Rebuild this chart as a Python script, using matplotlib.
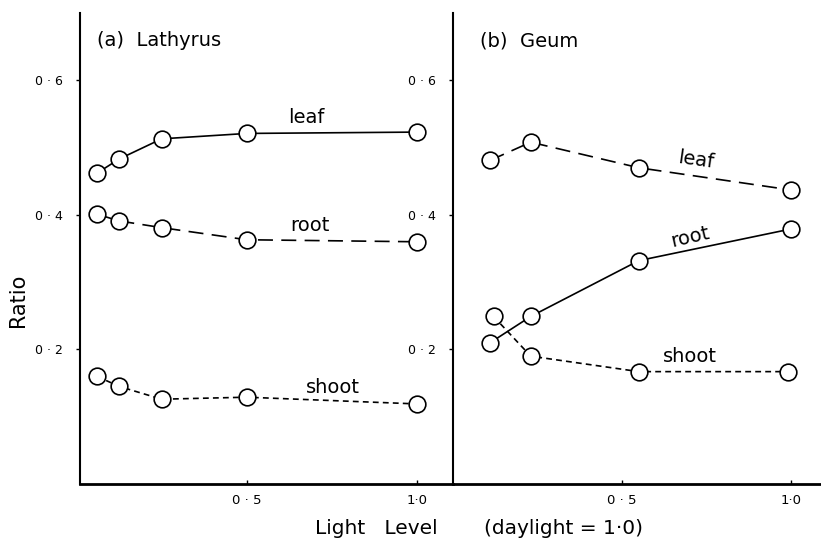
import matplotlib
matplotlib.use('Agg')
import matplotlib.pyplot as plt

# panel (a) Lathyrus
lat_x = [0.06, 0.125, 0.25, 0.5, 1.0]
lat_leaf = [0.462, 0.483, 0.513, 0.521, 0.523]
lat_root = [0.401, 0.391, 0.381, 0.363, 0.360]
lat_shoot = [0.160, 0.145, 0.126, 0.129, 0.119]

# panel (b) Geum
geum_x = [0.11, 0.23, 0.55, 1.0]
geum_leaf = [0.481, 0.508, 0.470, 0.437]
geum_root = [0.210, 0.249, 0.332, 0.379]
geum_shoot_x = [0.12, 0.23, 0.55, 0.99]
geum_shoot = [0.249, 0.190, 0.167, 0.167]

y_ticks = [0.2, 0.4, 0.6]
y_labels = ['0 · 2', '0 · 4', '0 · 6']
x_ticks = [0.5, 1.0]
x_labels = ['0 · 5', '1·0']

plt.rcParams['font.family'] = ['DejaVu Sans']

fig = plt.figure(figsize=(8.21, 5.42), dpi=100)
ax1 = fig.add_axes([80 / 821, 1 - 484 / 542, 373 / 821, 471 / 542])
ax2 = fig.add_axes([453 / 821, 1 - 484 / 542, 368 / 821, 471 / 542])

long_dash = (0, (9, 5))
short_dash = (0, (3.5, 2.5))
mk = dict(marker='o', markersize=12, markerfacecolor='white',
          markeredgecolor='black', markeredgewidth=1.2, color='black', lw=1.2)

ax1.plot(lat_x, lat_leaf, linestyle='-', **mk)
ax1.plot(lat_x, lat_root, linestyle=long_dash, **mk)
ax1.plot(lat_x, lat_shoot, linestyle=short_dash, **mk)

ax2.plot(geum_x, geum_leaf, linestyle=long_dash, **mk)
ax2.plot(geum_x, geum_root, linestyle='-', **mk)
ax2.plot(geum_shoot_x, geum_shoot, linestyle=short_dash, **mk)

ax1.set_xlim(0.01, 1.106)
ax2.set_xlim(0.0, 1.089)

for ax in (ax1, ax2):
    ax.set_ylim(0, 0.70)
    ax.set_yticks(y_ticks)
    ax.set_yticklabels(y_labels, fontsize=9)
    ax.set_xticks(x_ticks)
    ax.set_xticklabels(x_labels, fontsize=9.5)
    ax.tick_params(axis='y', direction='out', length=3, width=1, pad=9)
    ax.tick_params(axis='x', direction='in', length=3, width=1, pad=7)
    ax.spines['top'].set_visible(False)
    ax.spines['right'].set_visible(False)
    ax.spines['left'].set_linewidth(1.5)
    ax.spines['bottom'].set_linewidth(2)
    ax.patch.set_alpha(0)

# panel titles
ax1.text(0.059, 0.659, '(a)  Lathyrus', fontsize=14, va='center')
ax2.text(0.08, 0.659, '(b)  Geum', fontsize=14, va='center')

# series labels
ax1.text(0.676, 0.544, 'leaf', fontsize=14, ha='center', va='center')
ax1.text(0.685, 0.384, 'root', fontsize=14, ha='center', va='center')
ax1.text(0.753, 0.143, 'shoot', fontsize=14, ha='center', va='center')

ax2.text(0.719, 0.481, 'leaf', fontsize=14, ha='center', va='center', rotation=-8)
ax2.text(0.701, 0.367, 'root', fontsize=14, ha='center', va='center', rotation=13)
ax2.text(0.701, 0.190, 'shoot', fontsize=14, ha='center', va='center')

# axis labels
fig.text(18 / 821, 1 - 300 / 542, 'Ratio', rotation=90, fontsize=15,
         ha='center', va='center')
fig.text(376 / 821, 1 - 528 / 542, 'Light   Level', fontsize=14.5,
         ha='center', va='center')
fig.text(563 / 821, 1 - 528 / 542, '(daylight = 1·0)', fontsize=14.5,
         ha='center', va='center')

fig.savefig('out.png', dpi=100)
